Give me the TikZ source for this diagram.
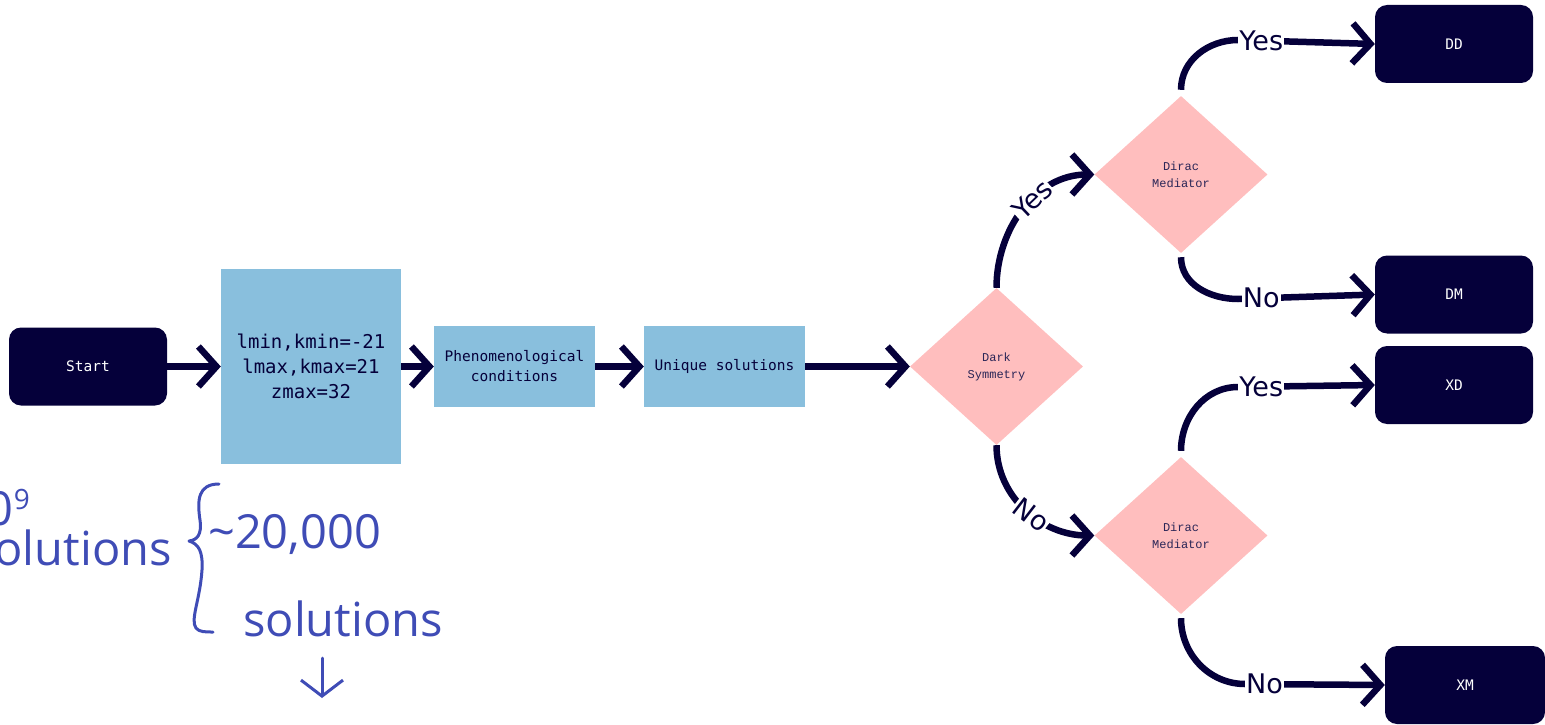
\documentclass[tikz,border=0pt]{standalone}
\usepackage{fontspec}
\setmonofont{DejaVu Sans Mono}
\setsansfont{DejaVu Sans}
\newfontfamily\diafont{Liberation Mono}
\newfontfamily\handfont{Open Sans}
\usetikzlibrary{arrows.meta,shapes.geometric,positioning,calc}
\definecolor{navy}{HTML}{05003A}
\definecolor{procblue}{HTML}{89BFDD}
\definecolor{diapink}{HTML}{FFBEBE}
\definecolor{handblue}{HTML}{3F4CB6}

\begin{document}
\begin{tikzpicture}[x=1pt,y=1pt,>={Straight Barb[length=18pt,width=40pt]},
  term/.style={fill=navy,text=white,rounded corners=12pt,minimum width=158pt,minimum height=78pt,font=\ttfamily\fontsize{14.5}{17}\selectfont},
  proc/.style={fill=procblue,text=navy,minimum width=161pt,minimum height=81pt,align=center,font=\ttfamily\fontsize{14.5}{20}\selectfont},
  decide/.style={diamond,fill=diapink,text=navy!85,minimum width=173pt,minimum height=157pt,inner sep=0pt,align=center,font=\diafont\fontsize{12}{17}\selectfont},
  flow/.style={->,navy,line width=6.5pt},
  lab/.style={fill=white,text=navy,inner sep=1pt,font=\sffamily\fontsize{27}{27}\selectfont},
  hand/.style={text=handblue,inner sep=0pt,font=\handfont\fontsize{47}{47}\selectfont},
  handline/.style={handblue,line width=3pt,line cap=round,line join=round}]
\useasboundingbox (0,0) rectangle (1545,-725);
% main chain
\node[term] (start) at (88,-366.5) {Start};
\node[proc,minimum width=180pt,minimum height=195pt,font=\ttfamily\fontsize{19}{25}\selectfont] (grid) at (311,-366.5) {lmin,kmin=-21\\lmax,kmax=21\\zmax=32};
\node[proc] (pheno) at (514.5,-366.5) {Phenomenological\\conditions};
\node[proc] (uniq) at (724.5,-366.5) {Unique solutions};
\draw[flow] (start)--(grid);\draw[flow] (grid)--(pheno);\draw[flow] (pheno)--(uniq);
% decisions
\node[decide] (dark) at (996.5,-366.5) {Dark\\Symmetry};
\node[decide] (dirA) at (1181,-174.5) {Dirac\\Mediator};
\node[decide] (dirB) at (1181,-535.5) {Dirac\\Mediator};
\draw[flow] (uniq)--(dark);
\draw[flow] (dark.north) to[out=90,in=180] node[lab,sloped,pos=.58]{Yes} (dirA.west);
\draw[flow] (dark.south) to[out=-90,in=180] node[lab,sloped,pos=.55]{No} (dirB.west);
% outcomes
\node[term] (dd) at (1454,-44) {DD};
\node[term] (dm) at (1454,-294.5) {DM};
\node[term] (xd) at (1454,-385) {XD};
\node[term,minimum width=160pt] (xm) at (1465,-685) {XM};
\draw[flow] ($(dirA.north)+(0,6)$) to[out=90,in=180] (1238,-40) -- node[lab,pos=.17]{Yes} (dd.west);
\draw[flow] ($(dirA.south)+(0,-4)$) to[out=-90,in=180] (1238,-299) -- node[lab,pos=.17]{No} (dm.west);
\draw[flow] ($(dirB.north)+(0,6)$) to[out=90,in=180] (1238,-387) -- node[lab,pos=.17]{Yes} (xd.west);
\draw[flow] ($(dirB.south)+(0,-4)$) to[out=-90,in=180] (1245,-684) -- node[lab,pos=.14]{No} (xm.west);
% hand notes
\node[hand,anchor=base east] (tot) at (30,-525) {10\raisebox{16pt}{\fontsize{28}{28}\selectfont 9}};
\node[hand,anchor=base east] (totsol) at (172,-565) {solutions};
\draw[handline] (219,-484) .. controls (198,-484) and (197,-500) .. (200,-520) .. controls (202,-535) and (197,-540) .. (189,-541) .. controls (199,-544) and (203,-552) .. (202,-570) .. controls (200,-600) and (190,-620) .. (196,-628) .. controls (199,-632) and (205,-632) .. (213,-632);
\node[hand,anchor=base west] (few) at (208,-548) {\textasciitilde 20,000};
\node[hand,anchor=base west] (fewsol) at (243,-636) {solutions};
\coordinate (from) at (322,-658);\coordinate (down) at (322,-698);
\draw[handline,-{Straight Barb[length=16pt,width=42pt]}] (from) -- (down);
\end{tikzpicture}
\end{document}
